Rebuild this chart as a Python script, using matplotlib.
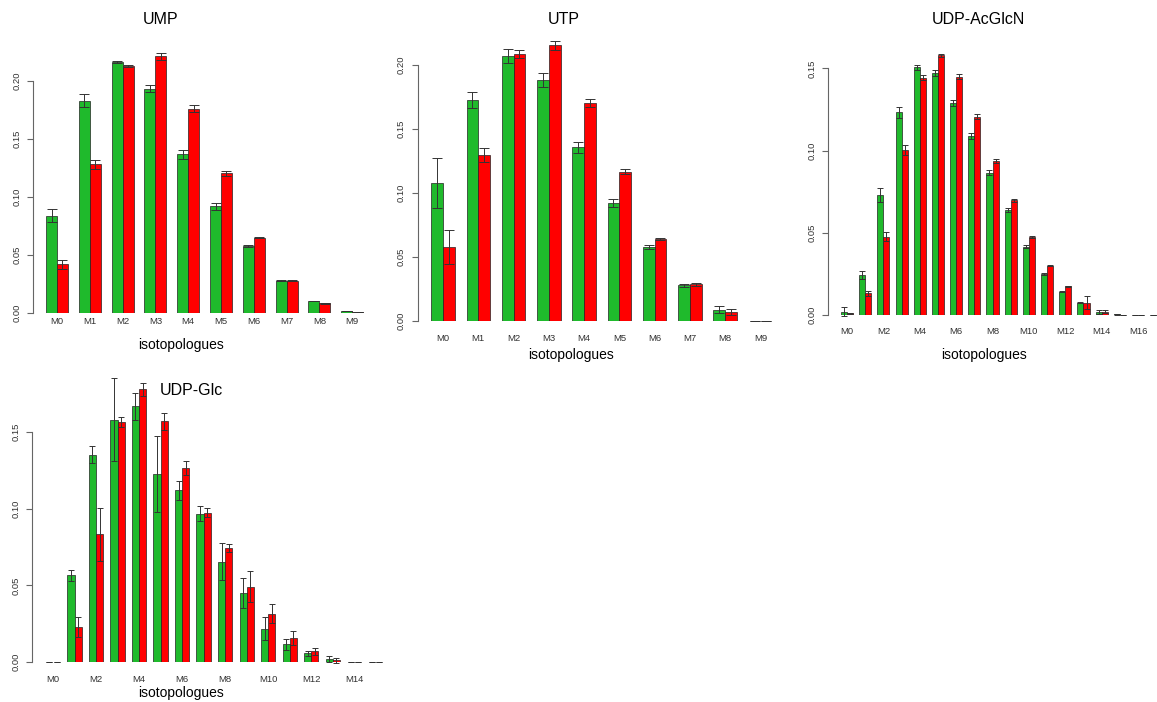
import numpy as np
import matplotlib
matplotlib.use('Agg')
import matplotlib.pyplot as plt

plt.rcParams['font.family'] = ['Liberation Sans', 'DejaVu Sans']

# mean fractions and error for the two conditions (green / red)
ump_g = [0.0839, 0.1828, 0.2160, 0.1930, 0.1368, 0.0920, 0.0578, 0.0279, 0.0103, 0.0017]
ump_g_err = [0.0058, 0.0055, 0.0008, 0.0030, 0.0040, 0.0030, 0.0010, 0.0003, 0.0003, 0.0002]
ump_r = [0.0420, 0.1280, 0.2126, 0.2210, 0.1760, 0.1204, 0.0650, 0.0279, 0.0083, 0.0009]
ump_r_err = [0.0037, 0.0040, 0.0010, 0.0032, 0.0030, 0.0020, 0.0005, 0.0003, 0.0002, 0.0001]

utp_g = [0.1077, 0.1727, 0.2068, 0.1880, 0.1355, 0.0923, 0.0577, 0.0278, 0.0088, 0.0002]
utp_g_err = [0.0197, 0.0063, 0.0052, 0.0055, 0.0042, 0.0032, 0.0019, 0.0010, 0.0029, 0.0]
utp_r = [0.0577, 0.1295, 0.2080, 0.2150, 0.1698, 0.1165, 0.0640, 0.0286, 0.0073, 0.0002]
utp_r_err = [0.0130, 0.0055, 0.0031, 0.0035, 0.0032, 0.0021, 0.0010, 0.0010, 0.0023, 0.0]

acglcn_g = [0.0020, 0.0243, 0.0730, 0.1232, 0.1506, 0.1470, 0.1290, 0.1089, 0.0866, 0.0639,
            0.0416, 0.0249, 0.0142, 0.0075, 0.0016, 0.0004, 0.0001, 0.0001]
acglcn_g_err = [0.0027, 0.0025, 0.0040, 0.0035, 0.0015, 0.0018, 0.0020, 0.0016, 0.0015, 0.0010,
                0.0010, 0.0005, 0.0003, 0.0003, 0.0012, 0.0001, 0.0, 0.0]
acglcn_r = [0.0010, 0.0132, 0.0476, 0.1003, 0.1443, 0.1580, 0.1450, 0.1206, 0.0939, 0.0697,
            0.0476, 0.0300, 0.0176, 0.0075, 0.0020, 0.0002, 0.0001, 0.0001]
acglcn_r_err = [0.0005, 0.0015, 0.0027, 0.0030, 0.0015, 0.0010, 0.0017, 0.0016, 0.0012, 0.0010,
                0.0005, 0.0003, 0.0003, 0.0040, 0.0010, 0.0, 0.0, 0.0]

glc_g = [0.0, 0.0565, 0.1352, 0.1580, 0.1667, 0.1226, 0.1120, 0.0967, 0.0654, 0.0452,
         0.0217, 0.0115, 0.0057, 0.0022, 0.0, 0.0]
glc_g_err = [0.0, 0.0037, 0.0057, 0.0272, 0.0090, 0.0250, 0.0060, 0.0048, 0.0122, 0.0098,
             0.0074, 0.0037, 0.0017, 0.0020, 0.0, 0.0]
glc_r = [0.0, 0.0228, 0.0833, 0.1565, 0.1778, 0.1570, 0.1267, 0.0974, 0.0746, 0.0491,
         0.0315, 0.0159, 0.0070, 0.0011, 0.0, 0.0]
glc_r_err = [0.0, 0.0065, 0.0171, 0.0033, 0.0044, 0.0054, 0.0046, 0.0030, 0.0026, 0.0100,
             0.0061, 0.0045, 0.0023, 0.0015, 0.0, 0.0]

GREEN = '#1fba2c'
RED = '#ff0000'
EDGE = '#222222'
AXC = '#666666'

W, H = 1157, 702
fig = plt.figure(figsize=(W / 100, H / 100), dpi=100)


def panel(g, g_err, r, r_err, x0, gw, zero, ppu, ytmax, step, lab_pad, title, title_xy, xlab_xy):
    n = len(g)
    u = gw / 3.0
    # R barplot style limits (bars of width 1, one gap between groups)
    xlo = 1 - 0.04 * (3 * n - 1)
    xhi = 3 * n + 0.04 * (3 * n - 1)
    ytop = max(max(g), max(r)) * 1.0504
    left = x0 + (xlo - 2) * u
    width = (xhi - xlo) * u
    height = ytop * ppu
    ax = fig.add_axes([left / W, 1 - zero / H, width / W, height / H])
    ax.patch.set_alpha(0)
    idx = np.arange(n)
    ax.bar(3 * idx + 1.5, g, width=1, color=GREEN, edgecolor=EDGE, linewidth=0.5)
    ax.bar(3 * idx + 2.5, r, width=1, color=RED, edgecolor=EDGE, linewidth=0.5)
    cs = u * 0.45 * 0.72
    for xs, v, e in [(3 * idx + 1.5, g, g_err), (3 * idx + 2.5, r, r_err)]:
        eb = ax.errorbar(xs, v, yerr=e, fmt='none', ecolor='#333333', elinewidth=0.7,
                         capsize=cs, capthick=0.7)
        for art in eb.get_children():
            art.set_clip_on(False)
    ax.set_xlim(xlo, xhi)
    ax.set_ylim(0, ytop)
    for s in ['top', 'right', 'bottom']:
        ax.spines[s].set_visible(False)
    ax.spines['left'].set_bounds(0, ytmax)
    ax.spines['left'].set_color(AXC)
    ax.spines['left'].set_linewidth(0.8)
    yt = np.arange(0, ytmax + 1e-9, 0.05)
    ax.set_yticks(yt, ['%.2f' % t for t in yt])
    ax.tick_params(axis='y', length=4.1, width=0.8, color=AXC, pad=7.6, labelsize=6.8,
                   labelcolor='#333333', labelrotation=90)
    for t in ax.get_yticklabels():
        t.set_ha('center')
        t.set_va('center')
    xt = idx[::step]
    ax.set_xticks(3 * xt + 2, ['M%d' % i for i in xt])
    ax.tick_params(axis='x', length=0, pad=lab_pad * 0.72, labelsize=6.8, labelcolor='#333333')
    for t in ax.get_xticklabels():
        t.set_va('center')
    fig.text(title_xy[0] / W, 1 - title_xy[1] / H, title, ha='center', va='center', fontsize=11.5)
    fig.text(xlab_xy[0] / W, 1 - xlab_xy[1] / H, 'isotopologues', ha='center', va='center',
             fontsize=10)
    return ax


panel(ump_g, ump_g_err, ump_r, ump_r_err, 57, 32.8, 313, 1161, 0.20, 1, 8,
      'UMP', (161, 20), (181, 345))
panel(utp_g, utp_g_err, utp_r, utp_r_err, 443, 35.27, 321, 1282, 0.20, 1, 18,
      'UTP', (564, 20), (571, 355))
panel(acglcn_g, acglcn_g_err, acglcn_r, acglcn_r_err, 847, 18.19, 315, 1644, 0.15, 2, 17,
      'UDP-AcGlcN', (978, 20), (984, 355))
panel(glc_g, glc_g_err, glc_r, glc_r_err, 53, 21.52, 662, 1533, 0.15, 2, 18,
      'UDP-Glc', (191, 391), (181, 693))

fig.savefig('out.png', dpi=100)
